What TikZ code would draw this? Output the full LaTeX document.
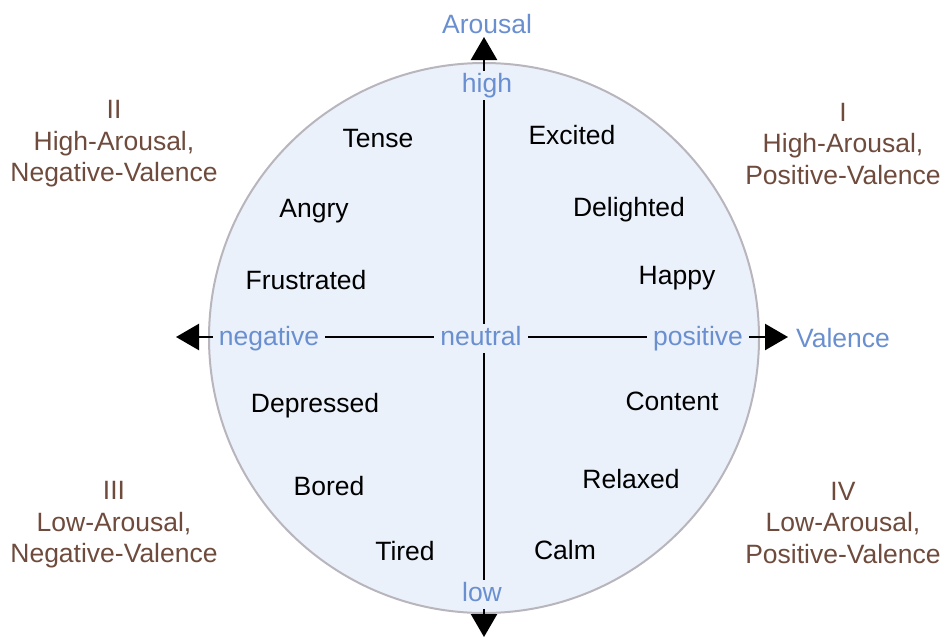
\documentclass[tikz,border=0pt]{standalone}
\usepackage{fontspec}
\setmainfont{Liberation Sans}
\usetikzlibrary{arrows.meta}
\definecolor{axisblue}{HTML}{6A8FD0}
\definecolor{quadbrown}{HTML}{6E4B3C}
\definecolor{discfill}{HTML}{EAF1FA}
\definecolor{discedge}{HTML}{B9B5BD}
\tikzset{
  txt/.style={font=\fontsize{26.5}{30}\selectfont, anchor=base, text height=19pt, text depth=6pt},
  emotion/.style={txt, text=black, inner sep=0pt},
  axislabel/.style={txt, text=axisblue, fill=discfill, inner xsep=6pt, inner ysep=2pt},
  axisname/.style={txt, text=axisblue, inner sep=0pt},
  quadrant/.style={font=\fontsize{26.5}{31.5}\selectfont, text=quadbrown, align=center, inner sep=0pt},
  axis/.style={line width=2.5pt, -{Triangle[length=23pt,width=26pt]}},
}
\begin{document}
\begin{tikzpicture}[x=1pt,y=-1pt]
\useasboundingbox (0,0) rectangle (944,637);
% disc
\filldraw[fill=discfill, draw=discedge, line width=2pt] (484,338) circle (275);
% axes
\coordinate (vtop) at (484,37);
\coordinate (vbot) at (484,637);
\coordinate (hleft) at (176,337);
\coordinate (hright) at (788,337);
\coordinate (vmid) at (484,58);
\coordinate (vmidb) at (484,614);
\coordinate (hmidl) at (198,337);
\coordinate (hmidr) at (766,337);
\draw[axis] (vmidb) -- (vtop);
\draw[axis] (vmid) -- (vbot);
\draw[axis] (hmidr) -- (hleft);
\draw[axis] (hmidl) -- (hright);
% axis names
\node[axisname] (arousal) at (487,33) {Arousal};
\node[axisname] (valence) at (843,347) {Valence};
% axis labels
\node[axislabel] (high) at (487,92) {high};
\node[axislabel] (low) at (482,601) {low};
\node[axislabel] (neutral) at (481,345) {neutral};
\node[axislabel] (negative) at (269,345) {negative};
\node[axislabel] (positive) at (698,345) {positive};
% emotions
\node[emotion] (tense) at (378,147) {Tense};
\node[emotion] (angry) at (314,217) {Angry};
\node[emotion] (frustrated) at (306,289) {Frustrated};
\node[emotion] (depressed) at (315,412) {Depressed};
\node[emotion] (bored) at (329,495) {Bored};
\node[emotion] (tired) at (405,560) {Tired};
\node[emotion] (excited) at (572,144) {Excited};
\node[emotion] (delighted) at (629,216) {Delighted};
\node[emotion] (happy) at (677,284) {Happy};
\node[emotion] (content) at (672,410) {Content};
\node[emotion] (relaxed) at (631,488) {Relaxed};
\node[emotion] (calm) at (565,559) {Calm};
% quadrants
\node[quadrant] (q2) at (114,144) {II\\High-Arousal,\\Negative-Valence};
\node[quadrant] (q1) at (843,144) {I\\High-Arousal,\\Positive-Valence};
\node[quadrant] (q3) at (114,525) {III\\Low-Arousal,\\Negative-Valence};
\node[quadrant] (q4) at (843,523) {IV\\Low-Arousal,\\Positive-Valence};
\end{tikzpicture}
\end{document}
